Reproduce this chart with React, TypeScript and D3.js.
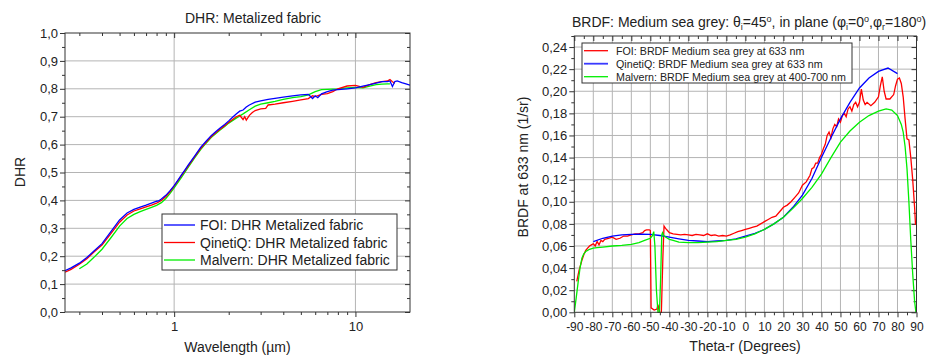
import React, { useRef, useEffect } from "react";
import * as d3 from "d3";

// ---- DHR: Metalized fabric (wavelength in µm, log axis) ----
const foiWl = [0.25, 0.27, 0.3, 0.33, 0.36, 0.4, 0.45, 0.5, 0.55, 0.6, 0.65, 0.7, 0.75, 0.8, 0.82, 0.85, 0.9, 0.95, 1.0, 1.05, 1.1, 1.15, 1.2, 1.3, 1.4, 1.5, 1.6, 1.7, 1.8, 1.9, 2.0, 2.1, 2.2, 2.3, 2.4, 2.5, 2.6, 2.8, 3.0, 3.3, 3.6, 4.0, 4.5, 5.0, 5.5, 5.8, 6.0, 6.2, 6.5, 7.0, 7.5, 8, 9, 10, 11, 12, 13, 14, 15, 15.5, 16, 16.5, 17, 18, 19, 20];
const foiDhr = [0.148, 0.158, 0.175, 0.195, 0.218, 0.245, 0.29, 0.33, 0.355, 0.368, 0.376, 0.383, 0.39, 0.397, 0.398, 0.405, 0.418, 0.435, 0.453, 0.473, 0.492, 0.51, 0.528, 0.56, 0.59, 0.612, 0.632, 0.647, 0.66, 0.672, 0.685, 0.698, 0.71, 0.72, 0.724, 0.735, 0.742, 0.752, 0.757, 0.762, 0.766, 0.77, 0.775, 0.778, 0.78, 0.765, 0.775, 0.768, 0.782, 0.79, 0.795, 0.797, 0.8, 0.803, 0.81, 0.815, 0.82, 0.826, 0.826, 0.828, 0.808, 0.826, 0.828, 0.822, 0.818, 0.813];

const qinWl = [0.25, 0.27, 0.3, 0.33, 0.36, 0.4, 0.45, 0.5, 0.55, 0.6, 0.65, 0.7, 0.75, 0.8, 0.85, 0.9, 0.95, 1.0, 1.1, 1.2, 1.3, 1.4, 1.5, 1.6, 1.7, 1.8, 1.9, 2.0, 2.1, 2.2, 2.3, 2.4, 2.45, 2.5, 2.6, 2.7, 2.8, 3.0, 3.2, 3.3, 3.6, 4.0, 4.5, 5.0, 5.5, 5.8, 6.0, 6.5, 7.0, 7.5, 8, 9, 10, 11, 12, 13, 14, 15, 15.5, 16, 16.5];
const qinDhr = [0.143, 0.153, 0.171, 0.191, 0.214, 0.24, 0.283, 0.322, 0.348, 0.362, 0.37, 0.377, 0.383, 0.39, 0.4, 0.414, 0.432, 0.451, 0.49, 0.525, 0.557, 0.586, 0.608, 0.628, 0.643, 0.656, 0.668, 0.68, 0.69, 0.7, 0.705, 0.69, 0.7, 0.688, 0.705, 0.715, 0.722, 0.728, 0.73, 0.742, 0.745, 0.75, 0.755, 0.76, 0.765, 0.775, 0.772, 0.78, 0.783, 0.79, 0.8, 0.81, 0.812, 0.805, 0.815, 0.822, 0.826, 0.828, 0.833, 0.825, 0.82];

const malWl = [0.3, 0.33, 0.36, 0.4, 0.45, 0.5, 0.55, 0.6, 0.65, 0.7, 0.75, 0.8, 0.85, 0.9, 0.95, 1.0, 1.1, 1.2, 1.3, 1.4, 1.5, 1.6, 1.7, 1.8, 1.9, 2.0, 2.2, 2.4, 2.6, 2.8, 3.0, 3.3, 3.6, 4.0, 4.5, 5.0, 5.5, 6.0, 6.5, 7.0, 8, 9, 10, 11, 12, 13, 14, 15, 15.5];
const malDhr = [0.155, 0.172, 0.195, 0.225, 0.268, 0.308, 0.335, 0.35, 0.36, 0.368, 0.375, 0.382, 0.392, 0.407, 0.425, 0.445, 0.483, 0.52, 0.553, 0.582, 0.605, 0.625, 0.64, 0.653, 0.665, 0.677, 0.695, 0.71, 0.725, 0.738, 0.745, 0.75, 0.755, 0.762, 0.768, 0.772, 0.778, 0.79, 0.797, 0.798, 0.8, 0.803, 0.805, 0.803, 0.81, 0.815, 0.817, 0.818, 0.818];

const dhrLegend = ["FOI: DHR Metalized fabric", "QinetiQ: DHR Metalized fabric", "Malvern: DHR Metalized fabric"];

// ---- BRDF: Medium sea grey (theta-r in degrees) ----
const foiTheta = [-88.7, -87.5, -86, -85, -84, -83, -82, -81, -80, -79, -78, -77, -76, -75, -74, -72, -70, -68, -66, -64, -62, -60, -58, -56, -54, -53, -52, -50.5, -50, -49.6, -48, -46.5, -46, -45.6, -45.2, -44.2, -43.4, -42.8, -42, -41, -40, -38, -36, -34, -32, -30, -28, -26, -24, -22, -20, -18, -16, -14, -12, -10, -8, -6, -4, -2, 0, 2, 4, 6, 8, 10, 12, 14, 16, 18, 20, 22, 24, 26, 28, 30, 32, 34, 35, 36, 37, 38, 39, 40, 41, 42, 43, 44, 45, 46, 47, 48, 49, 50, 51, 52, 53, 54, 55, 56, 57, 58, 59, 60, 61, 62, 63, 64, 66, 68, 70, 71, 72, 73, 74, 76, 78, 79, 80, 81, 82, 83, 84, 85, 86, 87, 88, 89, 89.5];
const foiBrdf = [0.028, 0.038, 0.047, 0.052, 0.056, 0.058, 0.06, 0.061, 0.062, 0.06, 0.064, 0.061, 0.065, 0.064, 0.066, 0.067, 0.068, 0.066, 0.067, 0.069, 0.069, 0.07, 0.071, 0.071, 0.072, 0.074, 0.0745, 0.0745, 0.074, 0.004, 0.002, 0.003, 0.007, 0.003, 0.0, 0.0, 0.05, 0.078, 0.076, 0.074, 0.072, 0.071, 0.0705, 0.07, 0.0705, 0.07, 0.0695, 0.0705, 0.07, 0.0695, 0.071, 0.0695, 0.07, 0.069, 0.0695, 0.069, 0.07, 0.0715, 0.073, 0.074, 0.075, 0.076, 0.077, 0.078, 0.08, 0.082, 0.084, 0.086, 0.087, 0.091, 0.095, 0.097, 0.1, 0.104, 0.108, 0.115, 0.118, 0.124, 0.13, 0.131, 0.135, 0.135, 0.14, 0.143, 0.148, 0.152, 0.16, 0.163, 0.158, 0.166, 0.17, 0.168, 0.175, 0.172, 0.178, 0.18, 0.177, 0.184, 0.186, 0.182, 0.188, 0.19, 0.186, 0.19, 0.202, 0.192, 0.188, 0.19, 0.187, 0.19, 0.195, 0.205, 0.213, 0.2, 0.193, 0.193, 0.197, 0.205, 0.211, 0.212, 0.207, 0.195, 0.175, 0.157, 0.156, 0.14, 0.12, 0.095, 0.079];

const qinTheta = [-80, -75, -70, -65, -60, -55, -50, -45, -40, -35, -30, -25, -20, -15, -10, -5, 0, 5, 10, 15, 20, 25, 30, 35, 40, 45, 50, 55, 60, 65, 70, 75, 80];
const qinBrdf = [0.064, 0.067, 0.069, 0.07, 0.0705, 0.0708, 0.0705, 0.0695, 0.068, 0.0665, 0.065, 0.0645, 0.064, 0.0645, 0.065, 0.0665, 0.069, 0.0715, 0.075, 0.08, 0.086, 0.095, 0.106, 0.121, 0.14, 0.158, 0.175, 0.19, 0.203, 0.212, 0.218, 0.221, 0.216];

const malTheta = [-90, -89, -88, -87, -86, -85, -84, -83, -82, -80, -78, -75, -70, -65, -60, -56, -53, -50, -49, -48.2, -47.6, -46.8, -46, -45.2, -44.6, -44, -43.6, -42.8, -41, -40, -38, -35, -30, -25, -20, -15, -10, -5, 0, 5, 10, 15, 20, 25, 30, 35, 40, 45, 50, 55, 60, 65, 70, 74, 77, 80, 82, 83, 84, 85, 86, 87, 88, 89, 89.7];
const malBrdf = [0.0, 0.013, 0.027, 0.04, 0.049, 0.053, 0.055, 0.056, 0.057, 0.058, 0.0585, 0.059, 0.06, 0.0605, 0.0615, 0.063, 0.065, 0.067, 0.069, 0.073, 0.06, 0.02, 0.0, 0.0, 0.03, 0.07, 0.072, 0.069, 0.067, 0.066, 0.065, 0.0635, 0.063, 0.063, 0.0635, 0.064, 0.065, 0.066, 0.068, 0.071, 0.075, 0.08, 0.086, 0.094, 0.103, 0.113, 0.125, 0.14, 0.154, 0.164, 0.172, 0.178, 0.182, 0.184, 0.183, 0.178, 0.17, 0.163, 0.15, 0.13, 0.1, 0.065, 0.035, 0.01, 0.0];

const brdfLegend = ["FOI: BRDF Medium sea grey at 633 nm", "QinetiQ: BRDF Medium sea grey at 633 nm", "Malvern: BRDF Medium sea grey at 400-700 nm"];

const FONT = "'Liberation Sans', Arial, Helvetica, sans-serif";
const INK = "#333";
const GRID = "#b4b4b4";
const RED = "#ff0000";
const BLUE = "#0000ff";
const GREEN = "#00ee00";

const comma = (digits) => (v) => d3.format(`.${digits}f`)(v).replace(".", ",");
const plain = (v) => String(Math.round(v)); // ascii hyphen for negatives

// styles an axis group drawn by d3.axis*
function styleAxis(g, size) {
    g.select(".domain").remove();
    g.selectAll("line").attr("stroke", INK);
    g.attr("font-family", FONT).attr("font-size", size);
    g.selectAll("text").attr("fill", "#222");
}

function drawDhr(svg) {
    const m = { l: 65, r: 410, t: 33, b: 312 };
    const x = d3.scaleLog().domain([0.25, 20]).range([m.l, m.r]);
    const y = d3.scaleLinear().domain([0, 1]).range([m.b, m.t]);
    const g = svg.append("g");

    const yMajor = d3.range(0, 11).map((i) => i / 10);
    const yMinor = d3.range(0, 10).map((i) => i / 10 + 0.05);
    const xMajor = [1, 10];
    const xMinor = [0.3, 0.4, 0.5, 0.6, 0.7, 0.8, 0.9, 2, 3, 4, 5, 6, 7, 8, 9];

    // grid
    g.append("g").selectAll("line").data(yMajor.slice(1, -1)).join("line")
        .attr("x1", m.l).attr("x2", m.r).attr("y1", (d) => y(d)).attr("y2", (d) => y(d))
        .attr("stroke", GRID);
    g.append("g").selectAll("line").data(xMajor).join("line")
        .attr("x1", (d) => x(d)).attr("x2", (d) => x(d)).attr("y1", m.t).attr("y2", m.b)
        .attr("stroke", GRID);

    // axes
    g.append("g").attr("transform", `translate(0,${m.b})`)
        .call(d3.axisBottom(x).tickValues(xMajor).tickSize(5).tickPadding(5).tickFormat(plain))
        .call((a) => styleAxis(a, 13));
    g.append("g").attr("transform", `translate(0,${m.b})`)
        .call(d3.axisBottom(x).tickValues(xMinor).tickSize(3).tickFormat(() => ""))
        .call((a) => styleAxis(a, 13));
    g.append("g").attr("transform", `translate(0,${m.t})`)
        .call(d3.axisTop(x).tickValues(xMinor).tickSize(-3).tickFormat(() => ""))
        .call((a) => styleAxis(a, 13));
    g.append("g").attr("transform", `translate(0,${m.t})`)
        .call(d3.axisTop(x).tickValues(xMajor).tickSize(-5).tickFormat(() => ""))
        .call((a) => styleAxis(a, 13));
    g.append("g").attr("transform", `translate(${m.l},0)`)
        .call(d3.axisLeft(y).tickValues(yMajor).tickSize(5).tickPadding(2).tickFormat(comma(1)))
        .call((a) => styleAxis(a, 13));
    g.append("g").attr("transform", `translate(${m.l},0)`)
        .call(d3.axisLeft(y).tickValues(yMinor).tickSize(3).tickFormat(() => ""))
        .call((a) => styleAxis(a, 13));
    g.append("g").attr("transform", `translate(${m.r},0)`)
        .call(d3.axisRight(y).tickValues(yMajor).tickSize(-5).tickFormat(() => ""))
        .call((a) => styleAxis(a, 13));
    g.append("g").attr("transform", `translate(${m.r},0)`)
        .call(d3.axisRight(y).tickValues(yMinor).tickSize(-3).tickFormat(() => ""))
        .call((a) => styleAxis(a, 13));

    // curves
    const clipId = "clip-dhr";
    g.append("clipPath").attr("id", clipId).append("rect")
        .attr("x", m.l).attr("y", m.t).attr("width", m.r - m.l).attr("height", m.b - m.t);
    const series = [
        { xs: malWl, ys: malDhr, c: GREEN },
        { xs: qinWl, ys: qinDhr, c: RED },
        { xs: foiWl, ys: foiDhr, c: BLUE },
    ];
    series.forEach((s) => {
        const ln = d3.line().x((d) => x(d[0])).y((d) => y(d[1]));
        g.append("path").datum(d3.zip(s.xs, s.ys))
            .attr("d", ln).attr("fill", "none").attr("stroke", s.c).attr("stroke-width", 1.3)
            .attr("clip-path", `url(#${clipId})`);
    });

    g.append("rect").attr("x", m.l).attr("y", m.t).attr("width", m.r - m.l).attr("height", m.b - m.t)
        .attr("fill", "none").attr("stroke", INK);

    // legend
    const lg = g.append("g");
    lg.append("rect").attr("x", 162).attr("y", 214).attr("width", 235).attr("height", 56)
        .attr("fill", "white").attr("stroke", INK);
    const cols = [BLUE, RED, GREEN];
    dhrLegend.forEach((t, i) => {
        const yy = 225 + i * 17.5;
        lg.append("line").attr("x1", 164).attr("x2", 195).attr("y1", yy).attr("y2", yy)
            .attr("stroke", cols[i]).attr("stroke-width", 1.3);
        lg.append("text").attr("x", 200).attr("y", yy + 5).text(t)
            .attr("font-family", FONT).attr("font-size", 14).attr("fill", "#222");
    });

    // titles
    g.append("text").attr("x", 253).attr("y", 23).attr("text-anchor", "middle")
        .attr("font-family", FONT).attr("font-size", 14).attr("fill", "#222").text("DHR: Metalized fabric");
    g.append("text").attr("x", 237.5).attr("y", 351.5).attr("text-anchor", "middle")
        .attr("font-family", FONT).attr("font-size", 14).attr("fill", "#222").text("Wavelength (µm)");
    g.append("text").attr("transform", "translate(25,172) rotate(-90)").attr("text-anchor", "middle")
        .attr("font-family", FONT).attr("font-size", 14).attr("fill", "#222").text("DHR");
}

function drawBrdf(svg) {
    const m = { l: 574.3, r: 916.5, t: 36, b: 312.3 };
    const x = d3.scaleLinear().domain([-90, 90]).range([m.l, m.r]);
    const y = d3.scaleLinear().domain([0, 0.25]).range([m.b, m.t]);
    const g = svg.append("g");

    const xMajor = d3.range(-90, 91, 10);
    const xMinor = d3.range(-85, 90, 10);
    const yMajor = d3.range(0, 13).map((i) => i * 0.02);
    const yMinor = d3.range(0, 13).map((i) => i * 0.02 + 0.01);

    g.append("g").selectAll("line").data(yMajor.slice(1)).join("line")
        .attr("x1", m.l).attr("x2", m.r).attr("y1", (d) => y(d)).attr("y2", (d) => y(d))
        .attr("stroke", GRID);
    g.append("g").selectAll("line").data(xMajor.slice(1, -1)).join("line")
        .attr("x1", (d) => x(d)).attr("x2", (d) => x(d)).attr("y1", m.t).attr("y2", m.b)
        .attr("stroke", GRID);

    g.append("g").attr("transform", `translate(0,${m.b})`)
        .call(d3.axisBottom(x).tickValues(xMajor).tickSize(5).tickPadding(5).tickFormat(plain))
        .call((a) => styleAxis(a, 12));
    g.append("g").attr("transform", `translate(0,${m.b})`)
        .call(d3.axisBottom(x).tickValues(xMinor).tickSize(3).tickFormat(() => ""))
        .call((a) => styleAxis(a, 12));
    g.append("g").attr("transform", `translate(0,${m.t})`)
        .call(d3.axisTop(x).tickValues(xMajor).tickSize(-5).tickFormat(() => ""))
        .call((a) => styleAxis(a, 12));
    g.append("g").attr("transform", `translate(0,${m.t})`)
        .call(d3.axisTop(x).tickValues(xMinor).tickSize(-3).tickFormat(() => ""))
        .call((a) => styleAxis(a, 12));
    g.append("g").attr("transform", `translate(${m.l},0)`)
        .call(d3.axisLeft(y).tickValues(yMajor).tickSize(5).tickPadding(2).tickFormat(comma(2)))
        .call((a) => styleAxis(a, 13));
    g.append("g").attr("transform", `translate(${m.l},0)`)
        .call(d3.axisLeft(y).tickValues(yMinor).tickSize(3).tickFormat(() => ""))
        .call((a) => styleAxis(a, 13));
    g.append("g").attr("transform", `translate(${m.r},0)`)
        .call(d3.axisRight(y).tickValues(yMajor).tickSize(-5).tickFormat(() => ""))
        .call((a) => styleAxis(a, 13));
    g.append("g").attr("transform", `translate(${m.r},0)`)
        .call(d3.axisRight(y).tickValues(yMinor).tickSize(-3).tickFormat(() => ""))
        .call((a) => styleAxis(a, 13));

    const clipId = "clip-brdf";
    g.append("clipPath").attr("id", clipId).append("rect")
        .attr("x", m.l).attr("y", m.t - 1).attr("width", m.r - m.l).attr("height", m.b - m.t + 2);
    const series = [
        { xs: foiTheta, ys: foiBrdf, c: RED },
        { xs: qinTheta, ys: qinBrdf, c: BLUE },
        { xs: malTheta, ys: malBrdf, c: GREEN },
    ];
    series.forEach((s) => {
        const ln = d3.line().x((d) => x(d[0])).y((d) => y(d[1]));
        g.append("path").datum(d3.zip(s.xs, s.ys))
            .attr("d", ln).attr("fill", "none").attr("stroke", s.c).attr("stroke-width", 1.3)
            .attr("clip-path", `url(#${clipId})`);
    });

    g.append("rect").attr("x", m.l).attr("y", m.t).attr("width", m.r - m.l).attr("height", m.b - m.t)
        .attr("fill", "none").attr("stroke", INK);

    const lg = g.append("g");
    lg.append("rect").attr("x", 582).attr("y", 43).attr("width", 270).attr("height", 40)
        .attr("fill", "white").attr("stroke", INK);
    const cols = [RED, "#3a3aff", GREEN];
    brdfLegend.forEach((t, i) => {
        const yy = 50.7 + i * 13;
        lg.append("line").attr("x1", 584).attr("x2", 608).attr("y1", yy).attr("y2", yy)
            .attr("stroke", cols[i]).attr("stroke-width", i === 1 ? 1.8 : 1.3);
        lg.append("text").attr("x", 616).attr("y", yy + 4).text(t)
            .attr("font-family", FONT).attr("font-size", 10.7).attr("fill", "#222");
    });

    // title with sub/superscripts
    const tt = g.append("text").attr("x", 572).attr("y", 27)
        .attr("font-family", FONT).attr("font-size", 14).attr("fill", "#222");
    const parts = [
        ["BRDF: Medium sea grey: θ", 0], ["i", 1], ["=45", -1], ["o", 2], [", in plane (φ", -2],
        ["i", 1], ["=0", -1], ["o", 2], [",φ", -2], ["r", 1], ["=180", -1], ["o", 2], [")", -2],
    ];
    parts.forEach(([s, k]) => {
        const span = tt.append("tspan").text(s);
        if (k === 1) span.attr("dy", 3).attr("font-size", 9);
        if (k === -1) span.attr("dy", -3);
        if (k === 2) span.attr("dy", -5).attr("font-size", 9);
        if (k === -2) span.attr("dy", 5);
    });

    g.append("text").attr("x", 745).attr("y", 351).attr("text-anchor", "middle")
        .attr("font-family", FONT).attr("font-size", 14).attr("fill", "#222").text("Theta-r (Degrees)");
    g.append("text").attr("transform", "translate(528,167) rotate(-90)").attr("text-anchor", "middle")
        .attr("font-family", FONT).attr("font-size", 14).attr("fill", "#222").text("BRDF at 633 nm (1/sr)");
}

const App = () => {
    const svgRef = useRef(null);

    useEffect(() => {
        const svg = d3.select(svgRef.current);
        svg.selectAll("*").remove();
        drawDhr(svg);
        drawBrdf(svg);
    }, []);

    return (
        <svg ref={svgRef} width={935} height={356}
            style={{ position: "absolute", left: 0, top: 0, background: "white" }} />
    );
};

export default App;
